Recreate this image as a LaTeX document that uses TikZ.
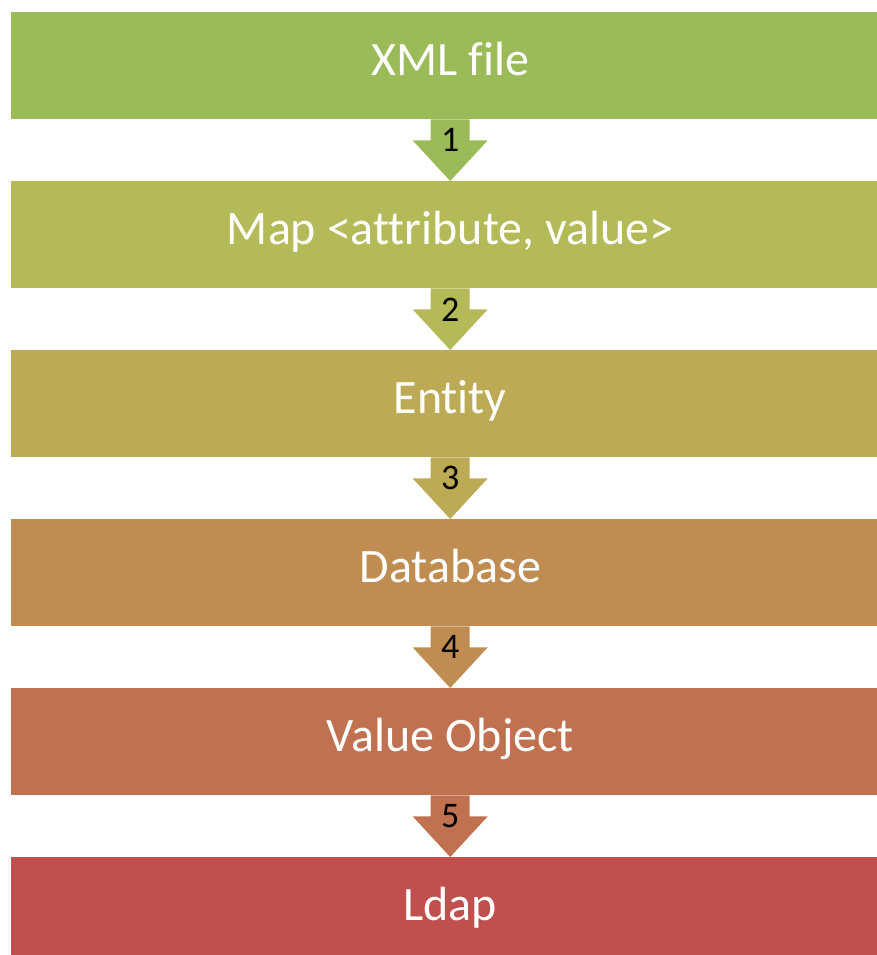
\documentclass[tikz,border=0pt]{standalone}
\usepackage{fontspec}
\setmainfont[Ligatures=NoCommon]{Carlito}
\usetikzlibrary{positioning}

\definecolor{stageA}{HTML}{9BBB59}
\definecolor{stageB}{HTML}{B5BA58}
\definecolor{stageC}{HTML}{BCAA55}
\definecolor{stageD}{HTML}{BF8D52}
\definecolor{stageE}{HTML}{C0714F}
\definecolor{stageF}{HTML}{C0504D}

\begin{document}
\begin{tikzpicture}[x=1pt,y=1pt]

	\tikzstyle stage box=[rectangle, inner sep=0pt, minimum width=879pt, minimum height=107pt, text height=33pt, text depth=13pt, text=white, font=\fontsize{48}{54}\selectfont];
	\tikzstyle step number=[inner sep=0pt, text=black, font=\fontsize{36}{40}\selectfont];

	\useasboundingbox (0,0) rectangle (877,-955);

	\node[stage box, fill=stageA, anchor=north west] (xml) at (10.5,-12) {XML file};
	\node[stage box, fill=stageB, below=61.6pt of xml] (map) {Map <attribute, value>};
	\node[stage box, fill=stageC, below=61.6pt of map] (entity) {Entity};
	\node[stage box, fill=stageD, below=61.6pt of entity] (db) {Database};
	\node[stage box, fill=stageE, below=61.6pt of db] (vo) {Value Object};
	\node[stage box, fill=stageF, below=61.6pt of vo] (ldap) {Ldap};

	\foreach \from/\to/\col/\n in {xml/map/stageA/1,map/entity/stageB/2,entity/db/stageC/3,db/vo/stageD/4,vo/ldap/stageE/5}
	{
		\fill[\col] ([xshift=-19.5pt]\from.south) -- ([xshift=-19.5pt,yshift=-21pt]\from.south)
			-- ([xshift=-37.5pt,yshift=-21pt]\from.south) -- (\to.north)
			-- ([xshift=37.5pt,yshift=-21pt]\from.south) -- ([xshift=19.5pt,yshift=-21pt]\from.south)
			-- ([xshift=19.5pt]\from.south) -- cycle;
		\node[step number] (num\n) at ([yshift=-21pt]\from.south) {\n};
	}

\end{tikzpicture}
\end{document}
